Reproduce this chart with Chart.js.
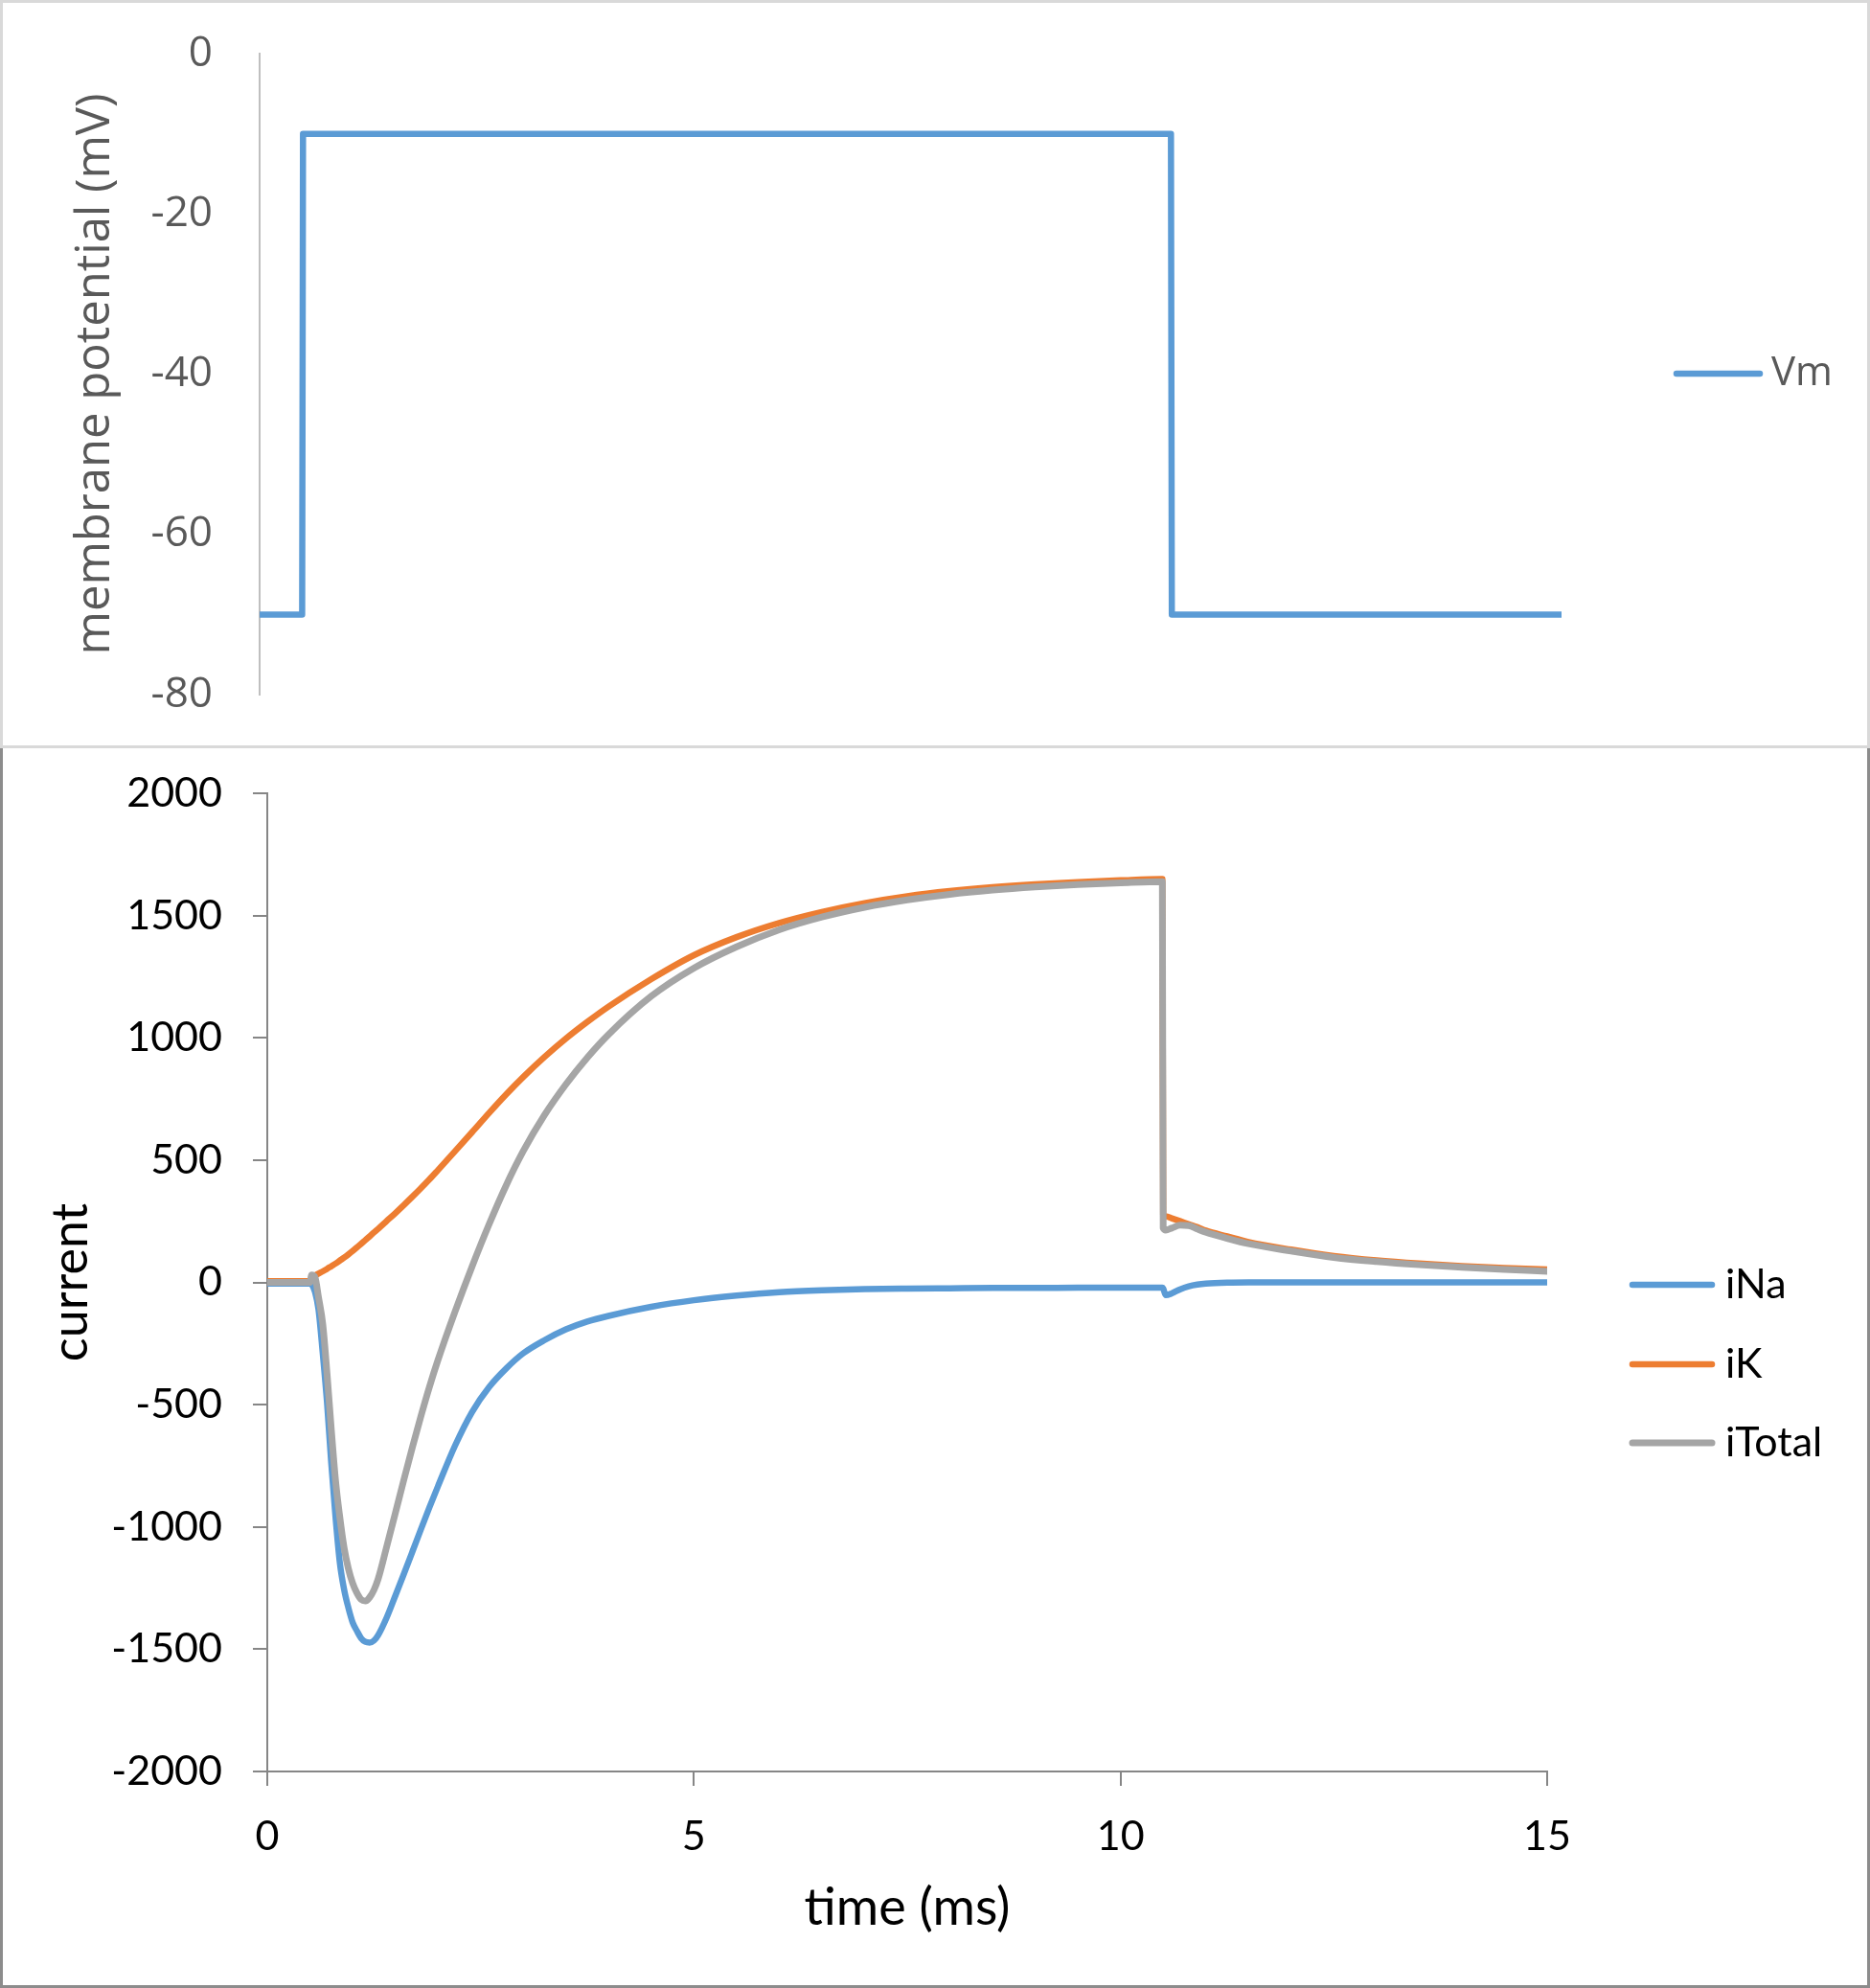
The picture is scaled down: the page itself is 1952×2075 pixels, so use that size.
<!DOCTYPE html>
<html>
<head>
<meta charset="utf-8">
<title>Voltage clamp: Vm and currents</title>
<script src="https://cdn.jsdelivr.net/npm/chart.js@4.4.1/dist/chart.umd.min.js"></script>
<style>
  html, body { margin: 0; padding: 0; background: #fff; }
  .panel { position: absolute; left: 0; width: 1952px; }
  .panel canvas { display: block; }
  .frame { position: absolute; left: 0; top: 0; right: 0; bottom: 0; box-sizing: border-box; pointer-events: none; }
  #vmPanel { top: 0; height: 781px; }
  #vmPanel .frame { border: 3px solid #d9d9d9; }
  #curPanel { top: 781px; height: 1294px; }
  #curPanel .frame { border: 3px solid #8c8c8c; border-top: none; }
</style>
</head>
<body>
<div class="panel" id="vmPanel"><canvas id="vmChart" width="1952" height="781"></canvas><div class="frame"></div></div>
<div class="panel" id="curPanel"><canvas id="currentChart" width="1952" height="1294"></canvas><div class="frame"></div></div>
<script>
// --- data ---
const timeMs = [0, 0.5, 0.52, 0.56, 0.6, 0.65, 0.7, 0.75, 0.8, 0.85,
  0.9, 0.95, 1.0, 1.05, 1.1, 1.15, 1.2, 1.25, 1.3, 1.4,
  1.5, 1.6, 1.7, 1.8, 1.9, 2.0, 2.2, 2.4, 2.6, 2.8,
  3.0, 3.25, 3.5, 3.75, 4.0, 4.5, 5.0, 5.5, 6.0, 6.5,
  7.0, 7.5, 8.0, 8.5, 9.0, 9.5, 10.0, 10.49, 10.5, 10.53,
  10.6, 10.7, 10.8, 10.9, 11.0, 11.25, 11.5, 12.0, 12.5, 13.0,
  13.5, 14.0, 14.5, 15.0];

const iNa = [-5, -5, -8, -40, -110, -290, -490, -740, -960, -1145,
  -1255, -1330, -1390, -1425, -1455, -1470, -1473, -1465, -1442, -1370,
  -1282, -1193, -1102, -1010, -920, -834, -668, -530, -428, -352,
  -290, -236, -192, -160, -137, -100, -73, -54, -40, -32,
  -27, -25, -24, -23, -23, -22, -22, -22, -25, -52,
  -45, -28, -16, -9, -5, -1, 0, 0, 0, 0,
  0, 0, 0, 0];

const iK = [5, 5, 20, 28, 36, 45, 55, 66, 77, 89,
  101, 114, 128, 143, 158, 173, 188, 204, 219, 251,
  283, 316, 350, 385, 421, 459, 536, 614, 693, 769,
  840, 922, 997, 1065, 1128, 1240, 1338, 1412, 1470, 1515,
  1551, 1579, 1600, 1616, 1628, 1637, 1644, 1649, 276, 270,
  262, 250, 238, 226, 212, 188, 165, 134, 108, 90,
  77, 67, 59, 53];

const iTotal = [0, 0, 30, 20, -60, -170, -371, -600, -810, -960,
  -1085, -1170, -1230, -1270, -1297, -1303, -1288, -1258, -1212, -1080,
  -945, -808, -675, -548, -428, -318, -120, 65, 238, 397,
  537, 685, 810, 919, 1014, 1170, 1285, 1372, 1442, 1494,
  1534, 1564, 1587, 1604, 1617, 1627, 1634, 1639, 222, 214,
  222, 234, 232, 218, 205, 180, 158, 128, 102, 85,
  72, 62, 53, 45];

const vmTimeMs = [0, 0.49, 0.5, 10.5, 10.51, 15];
const vm = [-70, -70, -10, -10, -70, -70];

const vmTicks = [-80, -60, -40, -20, 0];
const currentTicks = [-2000, -1500, -1000, -500, 0, 500, 1000, 1500, 2000];
const timeTicks = [0, 5, 10, 15];

const points = (xs, ys) => xs.map((x, i) => ({ x: x, y: ys[i] }));

// legend drawn at the side, Excel style (short line + label)
const sideLegend = {
  id: 'sideLegend',
  afterDraw(chart, args, opts) {
    const ctx = chart.ctx;
    ctx.save();
    ctx.font = opts.font;
    ctx.textBaseline = 'middle';
    ctx.textAlign = 'left';
    chart.data.datasets.forEach((ds, i) => {
      const y = opts.rows[i];
      ctx.beginPath();
      ctx.strokeStyle = ds.borderColor;
      ctx.lineWidth = ds.borderWidth;
      ctx.lineCap = 'round';
      ctx.moveTo(opts.lineStart, y);
      ctx.lineTo(opts.lineEnd, y);
      ctx.stroke();
      ctx.fillStyle = opts.color;
      ctx.fillText(ds.label, opts.textX, y);
    });
    ctx.restore();
  }
};

const noNumberFormat = v => String(v);

// --- top: membrane potential ---
new Chart(document.getElementById('vmChart'), {
  type: 'line',
  data: {
    datasets: [{
      label: 'Vm',
      data: points(vmTimeMs, vm),
      borderColor: '#5B9BD5',
      borderWidth: 6.5,
      pointRadius: 0,
      tension: 0,
      borderCapStyle: 'round',
      borderJoinStyle: 'round'
    }]
  },
  options: {
    responsive: false,
    animation: false,
    events: [],
    layout: { padding: { top: 56, right: 322, bottom: 56, left: 0 } },
    plugins: {
      legend: { display: false },
      tooltip: { enabled: false },
      sideLegend: { font: '42px "Open Sans"', color: '#595959', lineStart: 1750, lineEnd: 1837, textX: 1849, rows: [390] }
    },
    scales: {
      x: { type: 'linear', display: false, min: 0, max: 15 },
      y: {
        min: -80,
        max: 0,
        afterBuildTicks: s => { s.ticks = vmTicks.map(v => ({ value: v })); },
        // pin the plot area: fixed axis width, no extra padding from the label gap
        afterFit: s => { s.width = 271; s.paddingTop = 0; s.paddingBottom = 0; },
        grid: { drawOnChartArea: false, drawTicks: false },
        border: { color: '#BFBFBF', width: 2 },
        ticks: { padding: 49, color: '#595959', font: { family: 'Open Sans', size: 44 }, callback: noNumberFormat },
        title: {
          display: true,
          text: 'membrane potential (mV)',
          color: '#595959',
          font: { family: 'Open Sans', size: 49 },
          padding: { top: 71, bottom: 0 }
        }
      }
    }
  },
  plugins: [sideLegend]
});

// --- bottom: currents ---
const lineStyle = { pointRadius: 0, cubicInterpolationMode: 'monotone', borderCapStyle: 'round', borderJoinStyle: 'round' };
const axisGrey = '#868686';

new Chart(document.getElementById('currentChart'), {
  type: 'line',
  data: {
    datasets: [
      { label: 'iNa', data: points(timeMs, iNa), borderColor: '#5B9BD5', borderWidth: 6.5, order: 3, ...lineStyle },
      { label: 'iK', data: points(timeMs, iK), borderColor: '#ED7D31', borderWidth: 6.5, order: 2, ...lineStyle },
      { label: 'iTotal', data: points(timeMs, iTotal), borderColor: '#A5A5A5', borderWidth: 7, order: 1, ...lineStyle }
    ]
  },
  options: {
    responsive: false,
    animation: false,
    events: [],
    layout: { padding: { top: 47, right: 337, bottom: 0, left: 0 } },
    plugins: {
      legend: { display: false },
      tooltip: { enabled: false },
      sideLegend: { font: '43px Lato', color: '#000000', lineStart: 1704, lineEnd: 1787, textX: 1801, rows: [560, 643, 725] }
    },
    scales: {
      x: {
        type: 'linear',
        min: 0,
        max: 15,
        afterBuildTicks: s => { s.ticks = timeTicks.map(v => ({ value: v })); },
        afterFit: s => { s.height = 226; },
        grid: { drawOnChartArea: false, drawTicks: true, tickLength: 15, color: axisGrey, lineWidth: 2 },
        border: { color: axisGrey, width: 2 },
        ticks: { padding: 27, color: '#000', font: { family: 'Lato', size: 43 }, maxRotation: 0, autoSkip: false, callback: noNumberFormat },
        title: { display: true, text: 'time (ms)', color: '#000', font: { family: 'Lato', size: 54 }, padding: { top: 0, bottom: 51 } }
      },
      y: {
        min: -2000,
        max: 2000,
        afterBuildTicks: s => { s.ticks = currentTicks.map(v => ({ value: v })); },
        afterFit: s => { s.width = 279; s.paddingTop = 0; s.paddingBottom = 0; },
        grid: { drawOnChartArea: false, drawTicks: true, tickLength: 15, color: axisGrey, lineWidth: 2 },
        border: { color: axisGrey, width: 2 },
        ticks: { padding: 32, color: '#000', font: { family: 'Lato', size: 43 }, autoSkip: false, callback: noNumberFormat },
        title: { display: true, text: 'current', color: '#000', font: { family: 'Lato', size: 52 }, padding: { top: 43, bottom: 0 } }
      }
    }
  },
  plugins: [sideLegend]
});
</script>
</body>
</html>
